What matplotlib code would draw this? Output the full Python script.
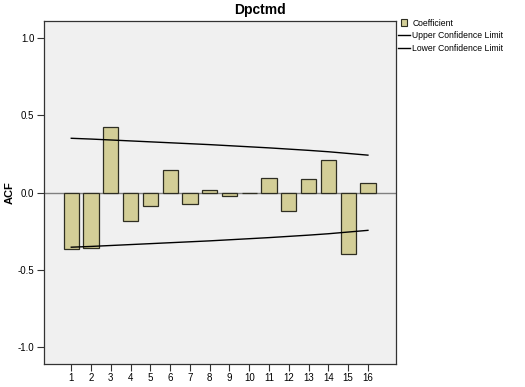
import matplotlib
matplotlib.use("Agg")
import matplotlib.pyplot as plt
from matplotlib.patches import Patch, Rectangle
from matplotlib.lines import Line2D
from matplotlib.legend_handler import HandlerPatch

lags = list(range(1, 17))
coefficient = [-0.362, -0.358, 0.425, -0.185, -0.088, 0.144, -0.071, 0.017,
               -0.022, -0.003, 0.093, -0.118, 0.088, 0.209, -0.396, 0.0625]
upper_limit = [0.352, 0.347, 0.341, 0.335, 0.329, 0.323, 0.317, 0.311,
               0.304, 0.297, 0.290, 0.282, 0.274, 0.265, 0.254, 0.243]
lower_limit = [-v for v in upper_limit]
yticks = [-1.0, -0.5, 0.0, 0.5, 1.0]

plt.rcParams['font.family'] = ['Liberation Sans', 'DejaVu Sans']

fig = plt.figure(figsize=(5.25, 3.87), dpi=100)
fig.patch.set_facecolor('white')
ax = fig.add_axes([0.0838, 0.0602, 0.6705, 0.8863])
ax.set_facecolor('#F0F0F0')

ax.axhline(0, color='#808080', lw=1.0, zorder=1)
ax.bar(lags, coefficient, width=0.77, color='#D3CE97', edgecolor='#2e2e22',
       linewidth=0.9, zorder=2)
ax.plot(lags, upper_limit, color='black', lw=1.0, zorder=3)
ax.plot(lags, lower_limit, color='black', lw=1.0, zorder=3)

ax.set_xlim(-0.38, 17.42)
ax.set_ylim(-1.105, 1.112)
ax.set_xticks(lags)
ax.set_xticklabels([str(l) for l in lags], fontsize=7)
ax.set_yticks(yticks)
ax.set_yticklabels([f"{v:.1f}" for v in yticks], fontsize=7)
ax.tick_params(axis='both', direction='out', length=5, width=0.8,
               color='#333333', pad=2)
for s in ax.spines.values():
    s.set_color('#333333')
    s.set_linewidth(0.9)

ax.set_ylabel('ACF', fontsize=8, fontweight='bold', labelpad=2)
fig.text(0.495, 0.973, 'Dpctmd', fontsize=10, fontweight='bold',
         ha='center', va='center')


class SquareHandler(HandlerPatch):
    def create_artists(self, legend, orig_handle, xdescent, ydescent,
                       width, height, fontsize, trans):
        side = height * 1.05
        x0 = -xdescent + (width - side) / 2
        y0 = -ydescent + (height - side) / 2
        p = Rectangle((x0, y0), side, side,
                      facecolor=orig_handle.get_facecolor(),
                      edgecolor=orig_handle.get_edgecolor(),
                      linewidth=orig_handle.get_linewidth(),
                      transform=trans)
        return [p]


coef_patch = Patch(facecolor='#D3CE97', edgecolor='#2e2e22', linewidth=0.8)
handles = [coef_patch,
           Line2D([0], [0], color='black', lw=1.0),
           Line2D([0], [0], color='black', lw=1.0)]
labels = ['Coefficient', 'Upper Confidence Limit', 'Lower Confidence Limit']
fig.legend(handles, labels, loc='upper left', bbox_to_anchor=(0.758, 0.952),
           frameon=False, fontsize=6.2, handlelength=1.4, handletextpad=0.25,
           borderaxespad=0, labelspacing=0.45, borderpad=0,
           handler_map={Patch: SquareHandler()})

fig.savefig('out.png', dpi=100)
